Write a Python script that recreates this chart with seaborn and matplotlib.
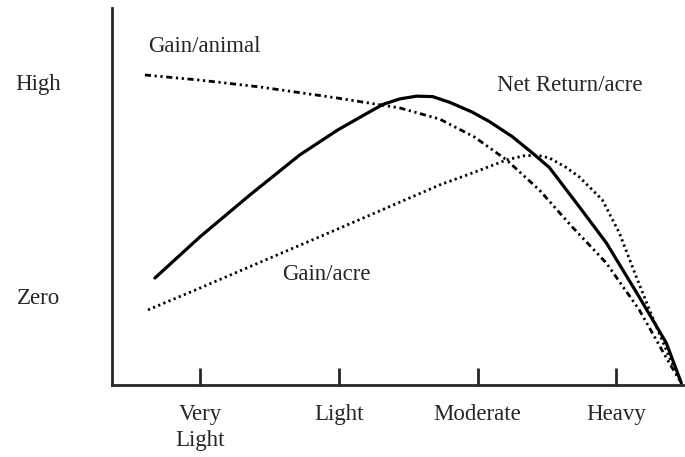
import pandas as pd
import matplotlib.pyplot as plt
import seaborn as sns

# grazing intensity axis: 1=Very Light, 2=Light, 3=Moderate, 4=Heavy
# response axis: 0=Zero, 1=High
intensity_labels = ["Very\nLight", "Light", "Moderate", "Heavy"]
level_labels = ["Zero", "High"]

animal_x = [0.604, 1.0, 1.432, 1.993, 2.439, 2.727, 2.978, 3.209, 3.446, 3.683, 3.928, 4.165, 4.381, 4.468]
animal_y = [1.033, 1.009, 0.977, 0.925, 0.879, 0.827, 0.743, 0.636, 0.495, 0.322, 0.154, -0.065, -0.313, -0.407]

net_x = [0.676, 1.0, 1.360, 1.719, 1.993, 2.180, 2.317, 2.439, 2.561, 2.676, 2.800, 2.960, 3.086, 3.250, 3.396, 3.518, 3.734, 3.928, 4.165, 4.360, 4.468]
net_y = [0.084, 0.276, 0.472, 0.659, 0.776, 0.845, 0.895, 0.921, 0.934, 0.932, 0.905, 0.860, 0.815, 0.745, 0.668, 0.600, 0.416, 0.248, -0.005, -0.220, -0.407]

acre_x = [0.626, 1.0, 1.993, 2.727, 2.964, 3.209, 3.330, 3.430, 3.518, 3.640, 3.734, 3.899, 4.022, 4.144, 4.259, 4.381, 4.468]
acre_y = [-0.065, 0.037, 0.313, 0.519, 0.575, 0.636, 0.655, 0.658, 0.645, 0.600, 0.556, 0.449, 0.294, 0.089, -0.098, -0.285, -0.407]

sns.set_style("ticks")
plt.rcParams['font.family'] = ['Liberation Serif', 'DejaVu Serif']

fig = plt.figure(figsize=(6.85, 4.57), dpi=100)
ax = fig.add_axes([112 / 685, 72 / 457, 571 / 685, 377 / 457])

animal = pd.DataFrame({'x': animal_x, 'y': animal_y})
net = pd.DataFrame({'x': net_x, 'y': net_y})
acre = pd.DataFrame({'x': acre_x, 'y': acre_y})

sns.lineplot(data=animal, x='x', y='y', ax=ax, color='black', lw=2.0, sort=False,
             linestyle=(0, (2.2, 1.3, 0.8, 1.3, 0.8, 1.3)))
sns.lineplot(data=net, x='x', y='y', ax=ax, color='black', lw=2.3, sort=False)
sns.lineplot(data=acre, x='x', y='y', ax=ax, color='black', lw=2.0, sort=False,
             linestyle=(0, (0.8, 1.2)))

ax.set_xlim(0.367, 4.48)
ax.set_ylim(-0.416, 1.346)
ax.set_xticks([1, 2, 3, 4], intensity_labels)
ax.set_yticks([0, 1], level_labels)
ax.tick_params(axis='x', direction='in', length=12, width=2, pad=14, labelsize=16.5)
ax.tick_params(axis='y', length=0, pad=37, labelsize=16.5)
for lab in ax.get_xticklabels():
    lab.set_linespacing(1.3)
ax.set_xlabel('')
ax.set_ylabel('')
sns.despine(ax=ax)
for s in ['left', 'bottom']:
    ax.spines[s].set_linewidth(2)

ax.text(0.63, 1.165, "Gain/animal", fontsize=16.5, va='center')
ax.text(3.14, 0.984, "Net Return/acre", fontsize=16.5, va='center')
ax.text(1.590, 0.10, "Gain/acre", fontsize=16.5, va='center')

fig.savefig('out.png', dpi=100)
